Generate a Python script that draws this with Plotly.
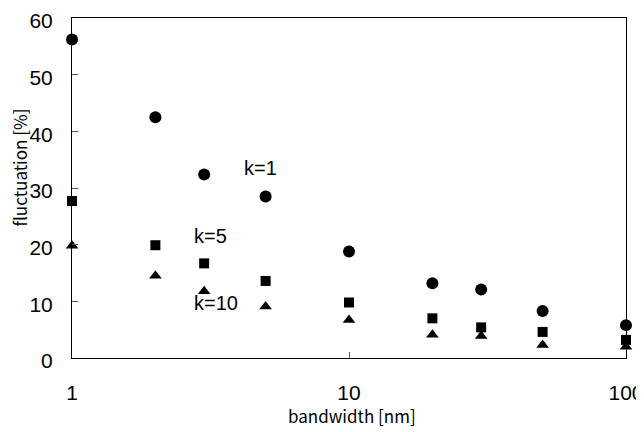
import math
import plotly.graph_objects as go

bandwidth = [1, 2, 3, 5, 10, 20, 30, 50, 100]
k1 = [56.2, 42.5, 32.4, 28.5, 18.8, 13.2, 12.1, 8.3, 5.8]
k5 = [27.7, 19.9, 16.7, 13.6, 9.8, 7.0, 5.4, 4.6, 3.2]
k10 = [19.8, 14.5, 11.8, 9.1, 6.7, 4.1, 3.9, 2.3, 2.0]

series = [
    ("k=1", k1, "circle", 12),
    ("k=5", k5, "square", 10),
    ("k=10", k10, "triangle-up", 11),
]

fig = go.Figure()
for name, vals, sym, sz in series:
    fig.add_trace(go.Scatter(
        x=bandwidth, y=vals, mode="markers", name=name,
        marker=dict(symbol=sym, size=sz, color="black"),
        cliponaxis=False,
    ))

labels = [("k=1", 4.8, 33.5), ("k=5", 3.15, 21.5), ("k=10", 3.3, 9.7)]
for txt, x, y in labels:
    fig.add_annotation(x=math.log10(x), y=y, text=txt, showarrow=False,
                       font=dict(family="Liberation Sans", size=20, color="black"))

fig.add_annotation(xref="paper", yref="paper", x=-0.094, xanchor="center", y=0.56,
                   text="fluctuation [%]", textangle=-90, showarrow=False,
                   font=dict(family="Noto Sans CJK JP", size=17, color="black"))
fig.add_annotation(xref="paper", yref="paper", x=0.505, y=-0.168, yanchor="middle",
                   text="bandwidth [nm]", showarrow=False,
                   font=dict(family="Noto Sans CJK JP", size=17, color="black"))

# page body has an 8px default margin, so the figure is sized to fit the window
fig.update_layout(
    width=636, height=424,
    margin=dict(l=64, r=18, t=10, b=74),
    paper_bgcolor="white", plot_bgcolor="white",
    showlegend=False,
    font=dict(family="Liberation Sans", size=21, color="black"),
)
fig.update_xaxes(
    type="log", range=[0, 2], tickvals=[1, 10, 100], ticktext=["1", "10", "100"],
    ticks="inside", ticklen=6, tickcolor="#555", showgrid=False, zeroline=False,
    showline=True, linecolor="black", linewidth=1, mirror=True,
    ticklabelstandoff=16, automargin=False, ticklabeloverflow="allow",
)
fig.update_yaxes(
    range=[0, 60], tickvals=[0, 10, 20, 30, 40, 50, 60],
    ticks="inside", ticklen=6, tickcolor="#555", showgrid=False, zeroline=False,
    showline=True, linecolor="black", linewidth=1, mirror=True,
    ticklabelstandoff=14, ticklabelshift=3, automargin=False, ticklabeloverflow="allow",
)
fig.write_html("out.html")
